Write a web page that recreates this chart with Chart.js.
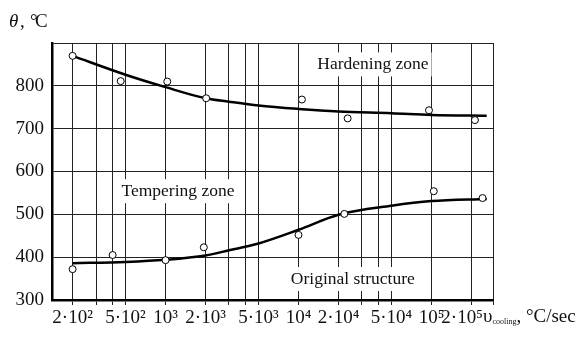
<!DOCTYPE html>
<html lang="en">
<head>
<meta charset="UTF-8">
<title>Cooling rate</title>
<script src="https://cdn.jsdelivr.net/npm/chart.js@4.4.1/dist/chart.umd.min.js"></script>
<style>
	html, body { margin: 0; padding: 0; background: #fff; }
	#caja { width: 586px; height: 337px; }
</style>
</head>
<body>
<div id="caja"><canvas id="pizarra"></canvas></div>
<script>
	// ticks con etiqueta y lineas de rejilla sin etiqueta
	const xTicks = [200, 500, 1000, 2000, 5000, 10000, 20000, 50000, 100000, 200000]
	const xTickLabels = ['2·10²', '5·10²', '10³', '2·10³', '5·10³', '10⁴', '2·10⁴', '5·10⁴', '10⁵', '2·10⁵\u2003']
	const xMinorGrid = [300, 400, 3000, 4000, 30000, 40000, 290000]
	const yTicks = [300, 400, 500, 600, 700, 800]

	// puntos medidos
	const hardX = [200, 460, 1030, 2020, 10600, 23400, 95700, 212000]
	const hardY = [870, 811, 810, 771, 768, 724, 743, 720]
	const tempX = [200, 400, 1000, 1940, 10000, 22100, 104000, 242000]
	const tempY = [372, 405, 393, 423, 452, 501, 554, 538]

	// curvas
	const curveX = [200, 500, 1000, 2000, 3000, 5000, 10000, 20000, 50000, 100000, 260000]
	const hardCurve = [870, 826, 797, 771, 763, 754, 746, 740, 736, 732, 730]
	const tempCurve = [386, 389, 394, 404, 416, 432, 464, 499, 520, 531, 536]

	// zonas
	const zoneLabels = ['Hardening zone', 'Tempering zone', 'Original structure']
	const zoneX = [36300, 1240, 25600]
	const zoneY = [850, 554, 349]

	const pares = (xs, ys) => xs.map((v, i) => ({ x: v, y: ys[i] }))

	const serif = '"Liberation Serif", "Times New Roman", serif'
	Chart.defaults.font.family = serif
	Chart.defaults.font.size = 19
	Chart.defaults.color = '#111'

	const notas = {
		id: 'notas',
		beforeDatasetsDraw(chart) {
			const { ctx, scales: { x, y } } = chart
			ctx.save()
			ctx.font = '17.5px ' + serif
			ctx.textAlign = 'center'
			ctx.textBaseline = 'middle'
			zoneLabels.forEach((t, i) => {
				const px = x.getPixelForValue(zoneX[i])
				const py = y.getPixelForValue(zoneY[i])
				const w = ctx.measureText(t).width + 6
				ctx.fillStyle = '#fff'
				ctx.fillRect(px - w / 2, py - 12, w, 24)
				ctx.fillStyle = '#111'
				ctx.fillText(t, px, py)
			})
			ctx.restore()
		},
		afterDraw(chart) {
			const { ctx, chartArea } = chart
			ctx.save()
			ctx.fillStyle = '#111'
			ctx.textBaseline = 'alphabetic'
			ctx.textAlign = 'left'
			// titulo eje x
			let bx = chartArea.right - 10
			const by = chartArea.bottom + 22
			ctx.font = '19px ' + serif
			ctx.fillText('υ', bx, by)
			bx += ctx.measureText('υ').width
			ctx.font = '8px ' + serif
			ctx.fillText('cooling', bx, by + 2)
			bx += ctx.measureText('cooling').width
			ctx.font = '19px ' + serif
			ctx.fillText(', °C/sec', bx, by)
			// titulo eje y
			ctx.font = 'italic 19px ' + serif
			ctx.fillText('θ', 9, 27)
			ctx.font = '19px ' + serif
			ctx.fillText(',', 20, 27)
			ctx.fillText('°', 30, 27)
			ctx.fillText('C', 35, 27)
			ctx.restore()
		}
	}

	const puntos = {
		showLine: false,
		pointRadius: 3.5,
		pointHoverRadius: 3.5,
		pointBackgroundColor: '#fff',
		pointBorderColor: '#000',
		pointBorderWidth: 1
	}
	const curva = {
		showLine: true,
		pointRadius: 0,
		borderColor: '#000',
		borderWidth: 2.5,
		cubicInterpolationMode: 'monotone'
	}

	const g = document.getElementById('pizarra')
	const myChart = new Chart(g, {
		type: 'scatter',
		data: {
			datasets: [
				{ label: 'Hardening', data: pares(hardX, hardY), ...puntos },
				{ label: 'Tempering', data: pares(tempX, tempY), ...puntos },
				{ label: 'Hardening curve', data: pares(curveX, hardCurve), ...curva },
				{ label: 'Tempering curve', data: pares(curveX, tempCurve), ...curva }
			]
		},
		options: {
			responsive: true,
			maintainAspectRatio: false,
			animation: false,
			layout: { padding: { top: 43, right: 93, left: 0, bottom: 0 } },
			plugins: { legend: { display: false }, tooltip: { enabled: false } },
			scales: {
				x: {
					type: 'logarithmic',
					min: 140,
					max: 290000,
					afterBuildTicks: (s) => {
						s.ticks = xTicks.concat(xMinorGrid).sort((a, b) => a - b).map(v => ({ value: v }))
					},
					afterFit: (s) => { s.height = 37 },
					ticks: {
						autoSkip: false,
						maxRotation: 0,
						padding: 2,
						callback: (v) => {
							const i = xTicks.indexOf(v)
							return i >= 0 ? xTickLabels[i] : ''
						}
					},
					grid: { color: '#222', lineWidth: 1, tickLength: 5 },
					border: { color: '#000', width: 2.5 }
				},
				y: {
					min: 300,
					max: 900,
					afterBuildTicks: (s) => {
						s.ticks = yTicks.concat([900]).map(v => ({ value: v }))
					},
					afterFit: (s) => { s.width = 52 },
					ticks: {
						padding: 8,
						callback: (v) => yTicks.includes(v) ? String(v) : ''
					},
					grid: { color: '#222', lineWidth: 1, drawTicks: false },
					border: { color: '#000', width: 2.5 }
				}
			}
		},
		plugins: [notas]
	})
</script>
</body>
</html>
